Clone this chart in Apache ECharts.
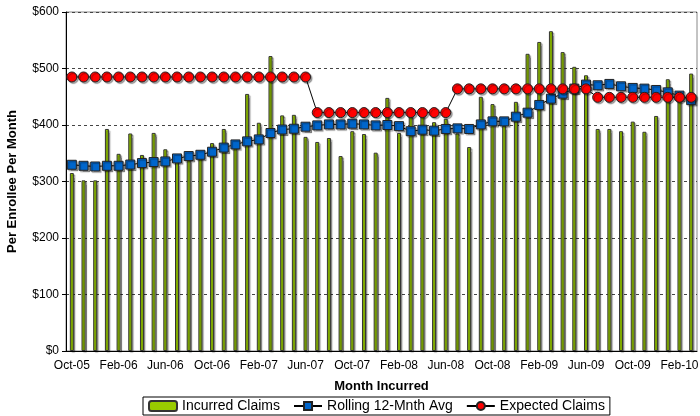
<!DOCTYPE html>
<html>
<head>
<meta charset="utf-8">
<script src="https://cdn.jsdelivr.net/npm/echarts@6/dist/echarts.min.js"></script>
<style>
html,body{margin:0;padding:0;background:#fff;}
#c{width:700px;height:416px;}
</style>
</head>
<body>
<div id="c"></div>
<script>
var months = ["Oct-05","Nov-05","Dec-05","Jan-06","Feb-06","Mar-06","Apr-06","May-06","Jun-06","Jul-06","Aug-06","Sep-06",
"Oct-06","Nov-06","Dec-06","Jan-07","Feb-07","Mar-07","Apr-07","May-07","Jun-07","Jul-07","Aug-07","Sep-07",
"Oct-07","Nov-07","Dec-07","Jan-08","Feb-08","Mar-08","Apr-08","May-08","Jun-08","Jul-08","Aug-08","Sep-08",
"Oct-08","Nov-08","Dec-08","Jan-09","Feb-09","Mar-09","Apr-09","May-09","Jun-09","Jul-09","Aug-09","Sep-09",
"Oct-09","Nov-09","Dec-09","Jan-10","Feb-10","Mar-10"];

var incurredClaims = [315,302,302,393,349,385,347,386,357,336,
341,350,368,393,362,455,404,522,417,418,
379,370,377,345,389,384,351,448,386,418,
429,405,411,385,361,450,437,399,441,526,
547,566,529,503,488,393,393,389,406,388,
416,481,452,491];

var rollingAvg = [329.6,327.8,326.6,327.8,327.8,330,332.6,334.4,335.5,340.8,
345,347.3,352.7,360,365.6,371,374.5,385.8,392,393.4,
397,399.3,401,401,402.3,401,399.3,400,398,389,
391.7,390,393,394,393,401,406.4,406.4,414.7,421.8,
435.5,446.6,455.5,464.4,471.5,470.3,472.7,468.5,465.6,464.4,
462,457.8,452,444];

var expectedClaims = [485,485,485,485,485,485,485,485,485,485,
485,485,485,485,485,485,485,485,485,485,
485,422,422,422,422,422,422,422,422,422,
422,422,422,464,464,464,464,464,464,464,
464,464,464,464,464,449,449,449,449,449,
449,449,449,449];

var yTicks = [0,100,200,300,400,500,600];

var chart = echarts.init(document.getElementById('c'), null, {renderer:'canvas'});
var font = '"Liberation Sans", Arial, sans-serif';
var shadow = {shadowColor:'rgba(0,0,0,0.35)', shadowOffsetX:1.5, shadowOffsetY:1.5, shadowBlur:1};

chart.setOption({
  animation:false,
  backgroundColor:'#fff',
  textStyle:{fontFamily:font, color:'#000'},
  grid:{left:66, right:3, top:12, bottom:65, show:true, borderColor:'#888', borderWidth:1,
        containLabel:false, outerBoundsMode:'none'},
  legend:{
    bottom:1, left:143,
    borderColor:'#000', borderWidth:1, padding:[2,5,2,5],
    itemGap:13, itemWidth:28, itemHeight:10,
    textStyle:{fontSize:14, fontFamily:font, color:'#000'},
    data:['Incurred Claims','Rolling 12-Mnth Avg','Expected Claims']
  },
  xAxis:{
    type:'category', data:months, boundaryGap:true,
    name:'Month Incurred', nameLocation:'middle', nameGap:29,
    nameTextStyle:{fontWeight:'bold', fontSize:13, fontFamily:font, color:'#000'},
    axisLine:{lineStyle:{color:'#000', width:1}},
    axisTick:{interval:3, length:5, alignWithLabel:false, lineStyle:{color:'#000'}},
    axisLabel:{interval:3, fontSize:12, fontFamily:font, color:'#000', margin:9, hideOverlap:false}
  },
  yAxis:{
    type:'value', min:yTicks[0], max:yTicks[yTicks.length-1], interval:100,
    name:'Per Enrollee Per Month', nameLocation:'middle', nameGap:47,
    nameTextStyle:{fontWeight:'bold', fontSize:13, fontFamily:font, color:'#000'},
    axisLine:{show:true, lineStyle:{color:'#000', width:1}},
    axisTick:{show:true, length:4, lineStyle:{color:'#000'}},
    axisLabel:{fontSize:12, fontFamily:font, color:'#000', margin:7, formatter:function(v){return '$'+v;}},
    splitLine:{show:true, lineStyle:{color:'#444', type:[3,3], width:1}}
  },
  series:[
    {
      name:'Incurred Claims', type:'bar', data:incurredClaims, barWidth:4,
      itemStyle:Object.assign({color:'#99CC00', borderColor:'#333', borderWidth:1}, shadow)
    },
    {
      name:'Rolling 12-Mnth Avg', type:'line', data:rollingAvg,
      symbol:'rect', symbolSize:9, showAllSymbol:true,
      lineStyle:{color:'#000', width:1},
      itemStyle:Object.assign({color:'#0066CC', borderColor:'#222', borderWidth:1}, shadow)
    },
    {
      name:'Expected Claims', type:'line', data:expectedClaims,
      symbol:'circle', symbolSize:10, showAllSymbol:true,
      lineStyle:{color:'#000', width:1},
      itemStyle:Object.assign({color:'#FF0000', borderColor:'#222', borderWidth:1}, shadow)
    }
  ]
});
</script>
</body>
</html>
